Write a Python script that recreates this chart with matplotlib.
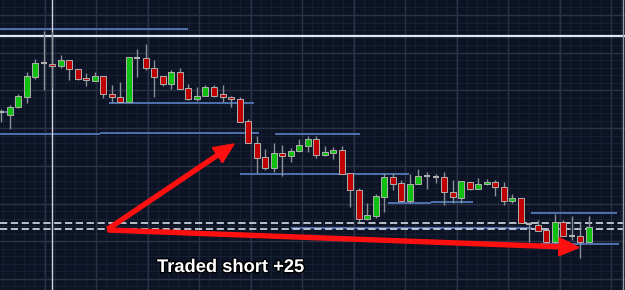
import matplotlib
matplotlib.use("Agg")
import matplotlib.pyplot as plt
import matplotlib.patheffects as pe
import numpy as np

# candle data (chart units, bottom of chart = 0)
opens = [178, 175, 183, 193, 213, 227, 226, 224, 230, 221, 212, 209, 214, 196, 193, 188, 232, 232, 222, 214,
         206, 218, 202, 191, 194, 203, 196, 193, 191, 169, 147, 133, 122, 137, 134, 139, 144, 151, 135, 137,
         140, 117, 100, 71, 74, 93, 113, 107, 89, 106, 114, 113, 113, 98, 92, 108, 101, 106, 108, 103,
         89, 92, 66, 65, 60, 48, 68, 54, 54, 48]
closes = [178, 183, 194, 214, 227, 227, 224, 230, 221, 211, 210, 214, 196, 193, 188, 233, 232, 222, 213, 206,
          218, 201, 191, 194, 203, 194, 193, 191, 168, 147, 132, 122, 137, 134, 139, 145, 151, 135, 138, 140,
          116, 100, 71, 75, 94, 113, 106, 89, 106, 114, 114, 113, 98, 93, 109, 101, 106, 108, 103, 89,
          92, 67, 66, 59, 48, 68, 54, 54, 48, 63]
highs = [181, 185, 196, 218, 231, 259, 258, 235, 230, 221, 217, 218, 214, 205, 208, 233, 241, 246, 230, 214,
         220, 222, 206, 203, 205, 205, 205, 194, 193, 171, 154, 141, 147, 145, 142, 151, 154, 154, 144, 143,
         144, 117, 102, 87, 96, 117, 117, 110, 116, 121, 118, 116, 118, 110, 109, 108, 112, 111, 110, 108,
         96, 92, 68, 70, 60, 76, 70, 74, 68, 74]
lows = [168, 161, 182, 187, 211, 200, 202, 222, 210, 210, 204, 209, 192, 187, 188, 188, 213, 220, 193, 204,
        201, 201, 190, 189, 194, 193, 188, 183, 168, 147, 117, 120, 118, 114, 128, 138, 138, 132, 134, 131,
        116, 83, 68, 70, 72, 78, 100, 89, 87, 106, 101, 107, 85, 87, 87, 100, 101, 105, 94, 85,
        87, 67, 48, 59, 46, 47, 54, 50, 32, 48]

# horizontal levels: (value, x start, x end)
blue_levels = [(261, 0, 188), (156, 0, 100), (157.5, 100, 259), (178, 0, 12), (187, 109, 254),
               (156, 275, 360), (116, 240, 409), (87, 388, 431), (88, 431, 473),
               (62, 291, 532), (77, 531, 617), (46, 540, 619)]
white_level = 254
dashed_levels = [67, 61]
cursor_x = 52

label = "Traded short +25"

bg = "#0b1325"
fig = plt.figure(figsize=(6.25, 2.9), dpi=100, facecolor=bg)
ax = fig.add_axes([0, 0, 1, 1])
ax.set_facecolor(bg)
ax.set_xlim(0, 625)
ax.set_ylim(0, 290)
for s in ax.spines.values():
    s.set_visible(False)
ax.set_xticks([])
ax.set_yticks([])

# grid (major + minor)
vmaj = 611 - 51.5 * np.arange(13)
hmaj = 275 - 37.7 * np.arange(8)
for x in np.arange(611 - 51.5 * 13, 625, 51.5 / 5):
    ax.axvline(x, color="#172033", lw=0.8, zorder=0)
for y in np.arange(275 - 37.7 * 8, 290, 37.7 / 5):
    ax.axhline(y, color="#172033", lw=0.8, zorder=0)
for x in vmaj:
    ax.axvline(x, color="#2a3346", lw=1.0, zorder=0)
for y in hmaj:
    ax.axhline(y, color="#2a3346", lw=1.0, zorder=0)

# candles
o = np.array(opens)
c = np.array(closes)
xs = 1 + 8.52 * np.arange(len(o))
ax.vlines(xs, lows, highs, color="#8a8f98", lw=1.0, zorder=3)
cols = np.where(c > o, "#10c010", "#c00000")
body = c - o
real = body != 0
ax.bar(xs[real], body[real], bottom=o[real], width=6, color=cols[real],
       edgecolor="#b0b0b0", linewidth=0.7, zorder=4)
ax.hlines(o[~real], xs[~real] - 3, xs[~real] + 3, color="#b0b0b0", lw=1.5, zorder=4)

# levels
for v, x0, x1 in blue_levels:
    ax.hlines(v, x0, x1, color="#4f72ad", lw=1.4, zorder=2)
ax.axhline(white_level, color="#dfe6f5", lw=1.6, zorder=2)
for v in dashed_levels:
    ax.hlines(v, 0, 623, color="#c8cdd8", lw=1.3, linestyles=(0, (4, 2)), zorder=2)
ax.axvline(cursor_x, color="#d0d4dc", lw=1.0, zorder=2)
ax.axvline(623, color="#9aa0aa", lw=1.0, zorder=2)

# arrows
ax.arrow(108, 61, 126, 85, width=4, head_width=18, head_length=20,
         length_includes_head=True, color="#ff1010", zorder=6)
ax.arrow(108, 60, 471, -17.5, width=4, head_width=18, head_length=20,
         length_includes_head=True, color="#ff1010", zorder=6)

ax.text(157, 18, label, fontsize=13.2, fontweight="bold", family="Liberation Sans",
        color="white", ha="left", va="baseline", zorder=7,
        path_effects=[pe.withStroke(linewidth=2, foreground="#000000")])

fig.savefig("out.png", dpi=100, facecolor=bg)
